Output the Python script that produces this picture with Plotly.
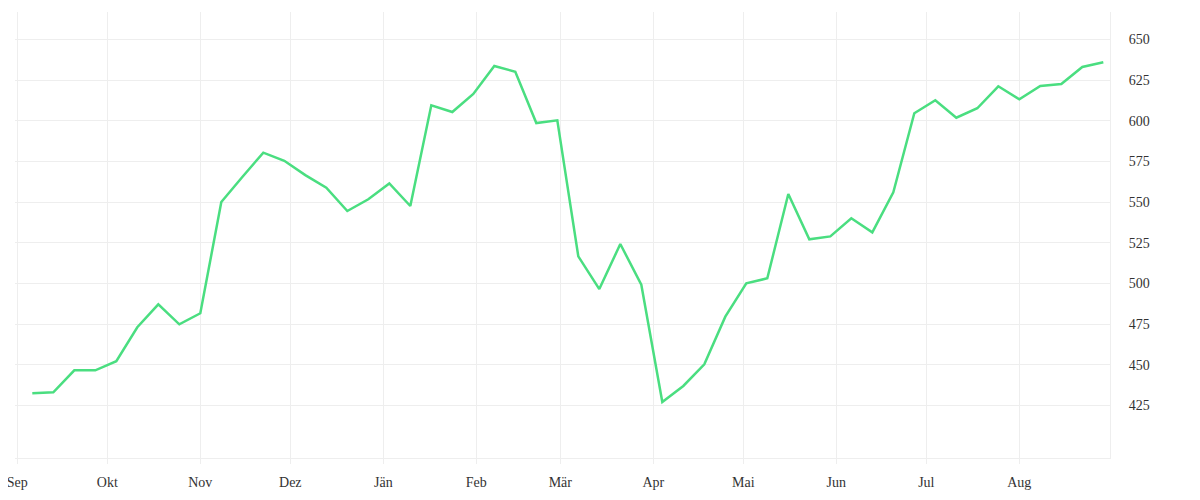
import pandas as pd
import plotly.graph_objects as go

# -------- データ（チャートから読み取り） --------
start_date = "2022-09-06"
values = [
    432.4, 433.0, 446.5, 446.5, 452.1, 473.0, 487.1, 474.8, 481.6, 550.0,
    565.4, 580.4, 575.4, 566.6, 558.8, 544.5, 551.7, 561.5, 547.6, 609.5,
    605.4, 616.5, 633.7, 630.2, 598.6, 600.3, 516.6, 496.5, 524.2, 499.2,
    427.0, 436.9, 450.2, 479.5, 500.0, 503.1, 555.0, 527.1, 528.9, 540.0,
    531.4, 556.0, 604.6, 612.6, 601.9, 607.7, 621.2, 613.2, 621.4, 622.6,
    633.1, 636.0,
]
dates = pd.date_range(start_date, periods=len(values), freq="7D")

month_ticks = pd.date_range("2022-09-01", "2023-08-01", freq="MS")
month_labels = ["Sep", "Okt", "Nov", "Dez", "Jän", "Feb", "Mär",
                "Apr", "Mai", "Jun", "Jul", "Aug"]
y_ticks = [425, 450, 475, 500, 525, 550, 575, 600, 625, 650]

# -------- 描画 --------
fig = go.Figure()
fig.add_trace(go.Scatter(
    x=dates, y=values,
    mode="lines",
    line=dict(color="#4ade80", width=2.5),
    hoverinfo="skip",
))

grid = "#eeeeee"
# ページ本体の余白 (8px) を差し引いたマージン
fig.update_layout(
    width=1200, height=500,
    paper_bgcolor="white", plot_bgcolor="white",
    font=dict(family="Liberation Serif", size=14, color="#333333"),
    showlegend=False,
    margin=dict(l=7, r=98, t=4, b=50, autoexpand=False),
)

fig.update_xaxes(
    range=["2022-08-31 05:30", "2023-08-31 05:30"],
    tickvals=month_ticks, ticktext=month_labels,
    showgrid=True, gridcolor=grid, gridwidth=1,
    showline=True, linecolor=grid, linewidth=1,
    ticks="outside", ticklen=5, tickcolor=grid,
    ticklabelstandoff=6, ticklabeloverflow="allow",
    zeroline=False, automargin=False,
)
fig.update_yaxes(
    side="right",
    range=[392.6, 666.9],
    tickvals=y_ticks,
    showgrid=True, gridcolor=grid, gridwidth=1,
    showline=True, linecolor=grid, linewidth=1,
    ticks="", ticklabelstandoff=15, ticklabeloverflow="allow",
    zeroline=False, automargin=False,
)

fig.write_html("out.html")
